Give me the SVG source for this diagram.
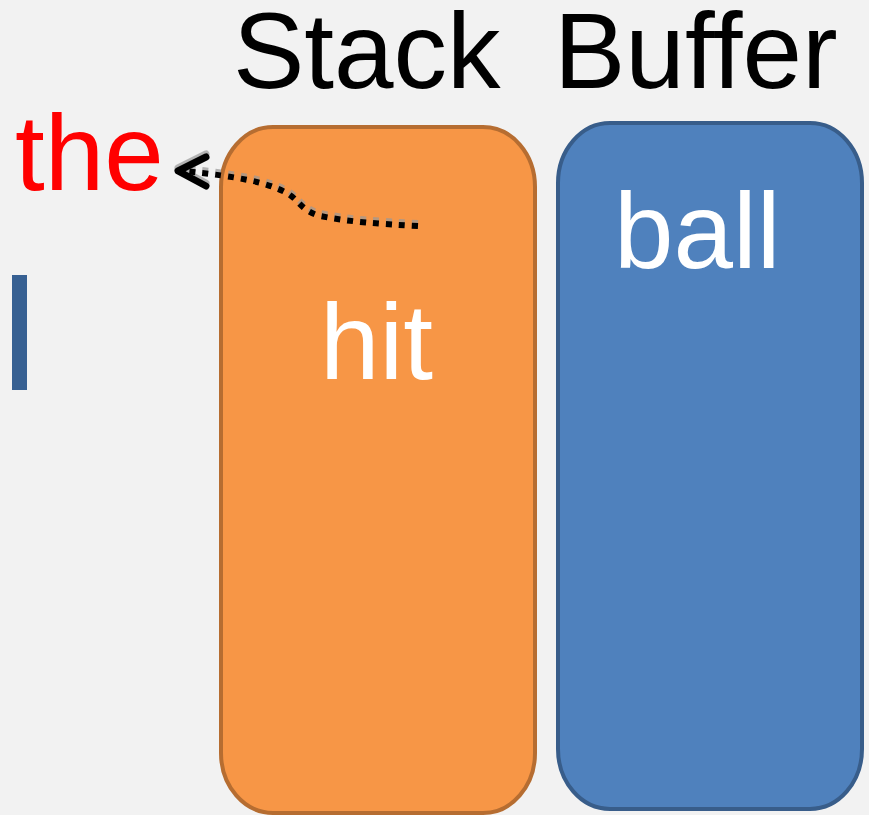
<svg xmlns="http://www.w3.org/2000/svg" width="869" height="815" viewBox="0 0 869 815">
<style>
.t{font-family:"Liberation Sans",Arial,sans-serif;font-size:107px}
.conn{fill:none;stroke-width:6;stroke-dasharray:6 7}
</style>
<rect width="869" height="815" fill="#f2f2f2"/>
<g id="title-stack"><text class="t" x="233" y="88" fill="#000">Stack</text></g>
<g id="title-buffer"><text class="t" x="554" y="88" fill="#000">Buffer</text></g>
<g id="the"><text class="t" x="15" y="190" fill="#ff0000">the</text></g>
<g id="cursor"><rect x="12" y="275" width="15" height="115" fill="#376092"/></g>
<g id="stack"><rect x="221" y="127" width="314" height="686" rx="52" ry="60" fill="#f79646" stroke="#b66d31" stroke-width="4"/><text class="t" x="320" y="379" fill="#fff">hit</text></g>
<g id="buffer"><rect x="558" y="123" width="304" height="686" rx="52" ry="60" fill="#4f81bd" stroke="#385d8a" stroke-width="4"/><text class="t" x="614" y="268" fill="#fff">ball</text></g>
<g id="connectors">
<g transform="translate(0,-3)" stroke="#999" opacity="0.7">
<path class="conn" d="M418,226 C380,224 350,222 320,216 C300,210 300,200 285,192 C265,182 240,177 185,171"/>
<path d="M206,157 L178,171 L206,186" fill="none" stroke-width="7" stroke-linecap="round" stroke-linejoin="round"/>
</g>
<path class="conn" stroke="#000" d="M418,226 C380,224 350,222 320,216 C300,210 300,200 285,192 C265,182 240,177 185,171"/>
<path d="M206,157 L178,171 L206,186" fill="none" stroke="#000" stroke-width="7" stroke-linecap="round" stroke-linejoin="round"/>
</g>
</svg>
